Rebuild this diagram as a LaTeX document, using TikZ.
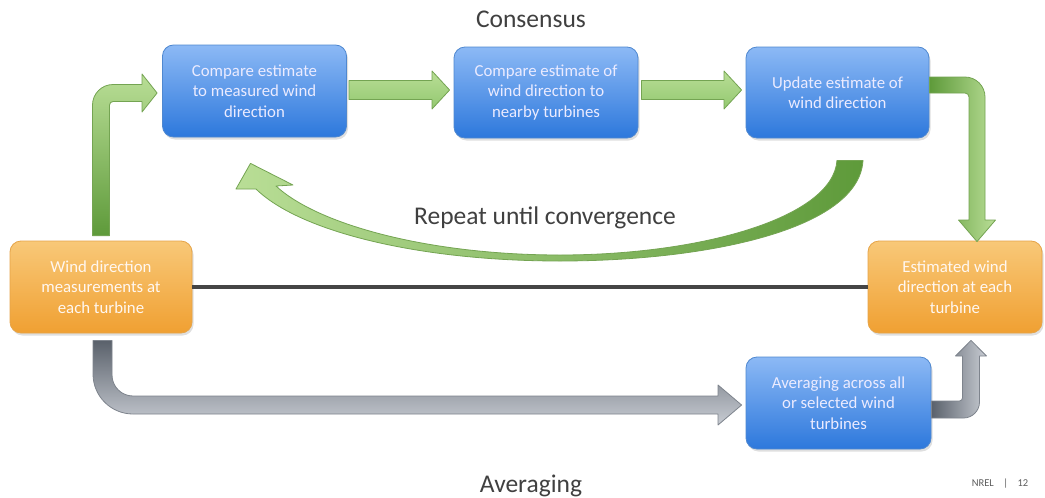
\documentclass[tikz,border=0pt]{standalone}
\usepackage{fontspec}
\setmainfont{Carlito}
\usetikzlibrary{calc,shadows}
\definecolor{blueTop}{HTML}{8CB9F5}
\definecolor{blueBot}{HTML}{2D78DC}
\definecolor{blueEdge}{HTML}{4F88D0}
\definecolor{orTop}{HTML}{F8C878}
\definecolor{orBot}{HTML}{F0A032}
\definecolor{orEdge}{HTML}{E6A448}
\definecolor{gLight}{HTML}{B9DE96}
\definecolor{gMid}{HTML}{93C870}
\definecolor{gDark}{HTML}{5E9A3A}
\definecolor{gEdge}{HTML}{74A452}
\definecolor{grLight}{HTML}{C8CCD3}
\definecolor{grDark}{HTML}{5A616B}
\definecolor{grEdge}{HTML}{7E848D}
\definecolor{txtGray}{HTML}{404040}
\definecolor{lineGray}{HTML}{454545}
\begin{document}
\begin{tikzpicture}[x=1pt,y=-1pt,
  box/.style={rounded corners=11pt, line width=0.8pt, inner sep=0pt, align=center,
    font=\fontsize{16.8}{20.5}\selectfont,
    drop shadow={shadow xshift=1.5pt, shadow yshift=-2.5pt, opacity=0.25}},
  bluebox/.style={box, draw=blueEdge, top color=blueTop, bottom color=blueBot, text=white!92!blue},
  orangebox/.style={box, draw=orEdge, top color=orTop, bottom color=orBot, text=white!94!orange},
  garrow/.style={draw=gEdge, line width=0.8pt, line join=round},
  grarrow/.style={draw=grEdge, line width=0.8pt, line join=round},
  title/.style={font=\fontsize{25.5}{30}\selectfont, text=txtGray, anchor=base},
  link/.style={draw=lineGray, line width=3.5pt}
]
\useasboundingbox (0,0) rectangle (1045,498);
\fill[white] (0,0) rectangle (1045,498);

% boxes
\node[bluebox, minimum width=184pt, minimum height=92pt] (b1) at (254.5,91) {Compare estimate\\to measured wind\\direction};
\node[bluebox, minimum width=184pt, minimum height=91pt] (b2) at (546,92.5) {Compare estimate of\\wind direction to\\nearby turbines};
\node[bluebox, minimum width=183pt, minimum height=91pt] (b3) at (837.5,92.5) {Update estimate of\\wind direction};
\node[orangebox, minimum width=182pt, minimum height=92pt] (lo) at (101,287) {Wind direction\\measurements at\\each turbine};
\node[orangebox, minimum width=174pt, minimum height=92pt] (ro) at (955,287) {Estimated wind\\direction at each\\turbine};
\node[bluebox, minimum width=185pt, minimum height=92pt] (b4) at (838.5,403) {Averaging across all\\or selected wind\\turbines};

% titles
\node[title] (tcons) at (531,27) {Consensus};
\node[title] (tavg) at (531,492) {Averaging};
\node[title] (trep) at (545,224) {Repeat until convergence};
\node[font=\fontsize{10.5}{12}\selectfont, text=txtGray!85, anchor=base] (nrel) at (1000,486) {NREL\hspace{0.9em}|\hspace{0.9em}12};

% straight line between the orange boxes
\draw[link] (lo.east) -- (ro.west);

% arrow lo -> b1
\path[garrow, top color=gLight, bottom color=gDark]
  ($(lo.north)+(-8.5,-5)$) -- (92.5,105) .. controls (92.5,93.7) and (101.7,84.5) .. (113,84.5)
  -- (142,84.5) -- (142,74) -- ($(b1.west)+(-5,2)$) -- (142,112) -- (142,101.5)
  -- (113,101.5) .. controls (111.1,101.5) and (109.5,103.1) .. (109.5,105)
  -- ($(lo.north)+(8.5,-5)$) -- cycle;

% arrow b1 -> b2
\path[garrow, top color=gLight, bottom color=gMid]
  ($(b1.east)+(2,-10.5)$) -- (432,80.5) -- (432,71) -- ($(b2.west)+(-4,-2.5)$) -- (432,109) -- (432,99.5)
  -- ($(b1.east)+(2,8.5)$) -- cycle;

% arrow b2 -> b3
\path[garrow, top color=gLight, bottom color=gMid]
  ($(b2.east)+(3,-12)$) -- (724,80.5) -- (724,71) -- ($(b3.west)+(-4,-2.5)$) -- (724,109) -- (724,99.5)
  -- ($(b2.east)+(3,7)$) -- cycle;

% arrow b3 -> ro
\path[garrow, left color=gDark, right color=gLight]
  ($(b3.east)+(0,-15.5)$) -- (965,77) .. controls (976,77) and (985,86) .. (985,97)
  -- (985,220) -- (995.5,220) -- ($(ro.north)+(22,1)$) -- (958.5,220) -- (969,220)
  -- (969,97) .. controls (969,94.8) and (967.2,93) .. (965,93)
  -- ($(b3.east)+(0,0.5)$) -- cycle;

% curved arrow (repeat until convergence) b3 -> b1
\path[garrow, left color=gLight, right color=gDark]
  ($(b3.south)+(-0.5,22)$) -- ($(b3.south)+(25.5,22)$)
  .. controls (859,230) and (705,261) .. (560,261)
  .. controls (420,261) and (300,232) .. (256,189)
  -- (236,189) -- ($(b1.south)+(-4,26)$) -- (293,185) -- (276,186)
  .. controls (318,225) and (430,255) .. (560,255)
  .. controls (700,255) and (833,218) .. ($(b3.south)+(-0.5,22)$) -- cycle;

% arrow lo -> b4 (averaging)
\path[grarrow, top color=grDark, bottom color=grLight]
  ($(lo.south)+(-8,7)$) -- (93,374) .. controls (93,396.1) and (110.9,414) .. (133,414)
  -- (718,414) -- (718,425) -- ($(b4.west)+(-4,2)$) -- (718,385) -- (718,396)
  -- (133,396) .. controls (121.4,396) and (112,386.6) .. (112,375)
  -- ($(lo.south)+(11,7)$) -- cycle;

% arrow b4 -> ro
\path[grarrow, left color=grDark, right color=grLight]
  ($(b4.east)+(0,-2)$) -- (959.5,401) .. controls (961.2,401) and (962.5,399.3) .. (962.5,398)
  -- (962.5,356) -- (955.5,356) -- ($(ro.south)+(16,7)$) -- (986.5,356) -- (979.5,356)
  -- (979.5,402) .. controls (979.5,410.8) and (972.3,418) .. (963.5,418)
  -- ($(b4.east)+(0,15)$) -- cycle;
\end{tikzpicture}
\end{document}
